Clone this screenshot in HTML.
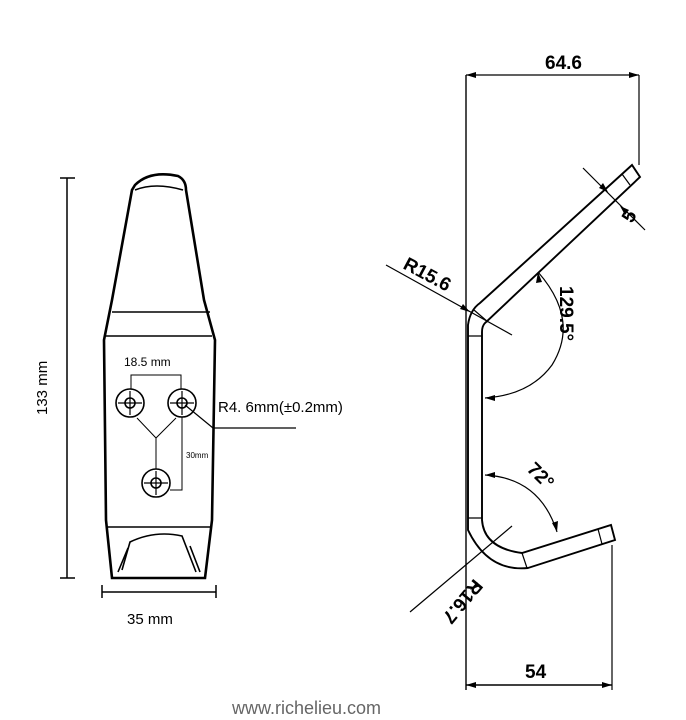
<!DOCTYPE html>
<html><head><meta charset="utf-8"><style>
html,body{margin:0;padding:0;background:#fff;}
svg{display:block;}
text{font-family:"Liberation Sans","Noto Sans CJK SC",sans-serif;fill:#000;}
.d{font-family:"Liberation Sans Narrow","Liberation Sans",sans-serif;font-weight:bold;font-size:19px;}
</style></head><body>
<svg width="686" height="720" viewBox="0 0 686 720" xmlns="http://www.w3.org/2000/svg">
<g fill="none" stroke="#000" stroke-width="1.6">
<path d="M135,185 Q150,170 178,176 Q186,180 186,190 L204,300 L215,340 L212,520 L205,578 L112,578 L106,520 L104,340 L112,300 L132,190 Z" stroke-width="2.6"/>
<path d="M135,190 Q155,182 183,190"/>
<path d="M112,312 L210,312"/>
<path d="M106,336 L212,336"/>
<path d="M108,527 L210,527"/>
<path d="M122,570 L130,542 Q155,530 182,536 L196,572"/>
<path d="M118,572 L128,548 M200,572 L190,546"/>
<circle cx="130" cy="403" r="14"/>
<circle cx="182" cy="403" r="14"/>
<circle cx="156" cy="483" r="14"/>
<circle cx="130" cy="403" r="5"/><circle cx="182" cy="403" r="5"/><circle cx="156" cy="483" r="5"/>
<path d="M118,403h24M130,391v24M170,403h24M182,391v24M144,483h24M156,471v24" stroke-width="1.2"/>
<path d="M131,389 V375 H181 V389" stroke-width="1"/>
<path d="M137,418 L156,438 L176,418 M156,438 V469" stroke-width="1"/>
<path d="M182,417 V490 H170" stroke-width="1"/>
<path d="M185,405 L213,428 L296,428" stroke-width="1.2"/>
<path d="M67,178 V578 M60,178 H75 M60,578 H75" stroke-width="1.5"/>
<path d="M102,592 H216 M102,585 V598 M216,585 V598" stroke-width="1.5"/>
<path d="M466,75 V690" stroke-width="1.4"/>
<path d="M466,75 H639 M639,75 V165" stroke-width="1.2"/>
<path d="M468,325 Q470,310 480,303 L632,165 L640,177 L485,323 Q482,326 482,332 L482,520 Q484,548 522,553 L611,525 L615,540 L528,568 Q488,572 468,530 Z" stroke-width="1.9"/>
<path d="M468,336 H482 M468,518 H482 M474,310 L488,322 M622,174 L630,185 M522,553 L527,568 M598,529 L602,544" stroke-width="1.2"/>
<path d="M612,545 V690" stroke-width="1.2"/>
<path d="M466,685 H612" stroke-width="1.4"/>
<path d="M583,168 L645,230" stroke-width="1.2"/>
<path d="M386,265 L512,335" stroke-width="1.2"/>
<path d="M538,272 Q580,320 552,365 Q530,395 485,398" stroke-width="1.2"/>
<path d="M485,475 Q540,478 557,532" stroke-width="1.2"/>
<path d="M410,612 L512,526" stroke-width="1.2"/>
</g>
<g fill="#000">
<path d="M466,75 l10,-3 v6z M639,75 l-10,-3 v6z M466,685 l10,-3 v6z M612,685 l-10,-3 v6z"/>
<path d="M608,192 l-9,-4 4,-5z M620,206 l9,4 -4,5z"/>
<path d="M470,312 l-10,-3 3,-5z"/>
<path d="M538,272 l4,10 -6,1z M485,398 l10,-3 v6z M485,475 l10,-3 v6z M557,532 l-5,-9 6,-2z M470,590 l7,-8 3,4z"/>
</g>
<text x="124" y="366" font-size="12">18.5 mm</text>
<text x="186" y="458" font-size="8">30mm</text>
<text x="218" y="412" font-size="15" font-family="Liberation Mono,monospace">R4. 6mm(±0.2mm)</text>
<text x="0" y="0" font-size="15" transform="translate(47,415) rotate(-90)">133 mm</text>
<text x="127" y="624" font-size="15">35 mm</text>
<text class="d" x="545" y="69">64.6</text>
<text class="d" x="525" y="678">54</text>
<text class="d" transform="translate(402,268) rotate(28)">R15.6</text>
<text class="d" transform="translate(560,286) rotate(90)">129.5°</text>
<text class="d" transform="translate(526,470) rotate(45)">72°</text>
<text class="d" transform="translate(632,224) rotate(-60)">5</text>
<text class="d" transform="translate(474,578) rotate(130)">R16.7</text>
<text x="232" y="714" font-size="18" style="fill:#666">www.richelieu.com</text>
</svg>
</body></html>
